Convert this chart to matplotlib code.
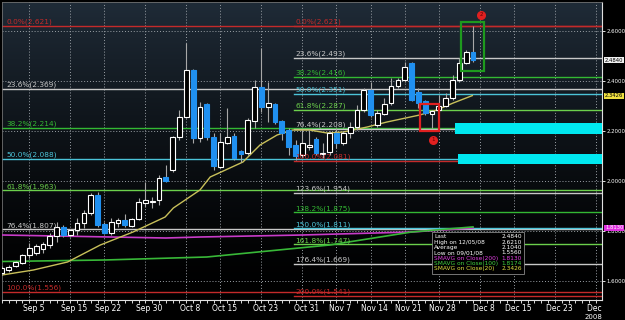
import numpy as np
import matplotlib
matplotlib.use("Agg")
import matplotlib.pyplot as plt
from matplotlib.patches import Rectangle
from matplotlib.colors import LinearSegmentedColormap
from matplotlib.transforms import Bbox, TransformedBbox, ScaledTranslation, blended_transform_factory

# Daily candles, one per weekday from Sep 1 2008 to Dec 5 2008 (x = weekday index)
opens = [1.633, 1.645, 1.661, 1.673, 1.705, 1.713, 1.729, 1.745, 1.781, 1.817,
         1.785, 1.805, 1.833, 1.873, 1.945, 1.829, 1.793, 1.833, 1.845, 1.821,
         1.849, 1.913, 1.917, 1.925, 2.017, 2.045, 2.177, 2.257, 2.445, 2.173,
         2.309, 2.177, 2.057, 2.153, 2.181, 2.121, 2.113, 2.241, 2.377, 2.297,
         2.309, 2.241, 2.205, 2.145, 2.105, 2.137, 2.169, 2.109, 2.117, 2.193,
         2.153, 2.193, 2.217, 2.285, 2.365, 2.225, 2.269, 2.313, 2.381, 2.405,
         2.473, 2.357, 2.321, 2.269, 2.285, 2.301, 2.333, 2.405, 2.473, 2.517]
highs = [1.661, 1.665, 1.681, 1.709, 1.753, 1.749, 1.757, 1.793, 1.837, 1.825,
         1.809, 1.853, 1.885, 1.953, 1.957, 1.837, 1.853, 1.853, 1.869, 1.853,
         1.933, 1.997, 1.937, 2.025, 2.065, 2.181, 2.285, 2.553, 2.449, 2.317,
         2.313, 2.193, 2.193, 2.293, 2.193, 2.125, 2.253, 2.405, 2.533, 2.397,
         2.313, 2.245, 2.213, 2.165, 2.205, 2.205, 2.177, 2.153, 2.201, 2.213,
         2.201, 2.237, 2.305, 2.373, 2.397, 2.285, 2.333, 2.413, 2.413, 2.477,
         2.477, 2.373, 2.325, 2.285, 2.345, 2.353, 2.425, 2.493, 2.525, 2.621]
lows = [1.625, 1.637, 1.657, 1.669, 1.693, 1.705, 1.713, 1.733, 1.757, 1.777,
        1.777, 1.785, 1.813, 1.865, 1.817, 1.789, 1.785, 1.817, 1.817, 1.817,
        1.845, 1.897, 1.893, 1.905, 1.997, 2.037, 2.165, 2.253, 2.153, 2.157,
        2.165, 2.045, 2.053, 2.149, 2.085, 2.077, 2.105, 2.213, 2.277, 2.237,
        2.229, 2.165, 2.105, 2.085, 2.097, 2.125, 2.105, 2.093, 2.105, 2.133,
        2.145, 2.173, 2.205, 2.277, 2.257, 2.217, 2.265, 2.305, 2.373, 2.397,
        2.321, 2.293, 2.265, 2.213, 2.277, 2.297, 2.325, 2.397, 2.469, 2.477]
closes = [1.653, 1.657, 1.677, 1.705, 1.733, 1.741, 1.749, 1.781, 1.817, 1.785,
          1.805, 1.833, 1.873, 1.945, 1.825, 1.793, 1.837, 1.845, 1.825, 1.849,
          1.917, 1.925, 1.921, 2.013, 2.001, 2.177, 2.257, 2.445, 2.173, 2.297,
          2.177, 2.061, 2.157, 2.177, 2.093, 2.109, 2.245, 2.377, 2.297, 2.313,
          2.237, 2.193, 2.137, 2.101, 2.153, 2.145, 2.113, 2.113, 2.193, 2.153,
          2.193, 2.217, 2.285, 2.365, 2.265, 2.273, 2.309, 2.381, 2.405, 2.457,
          2.325, 2.313, 2.273, 2.281, 2.301, 2.333, 2.405, 2.473, 2.517, 2.484]

# Moving averages
ma20_x = [0, 4.6, 9.6, 14.4, 19.2, 23.9, 25.1, 29.0, 30.5, 35.3, 37.8, 40.3,
          42.6, 45.1, 47.6, 50.0, 53.5, 56.4, 61.2, 63.7, 66.1, 68.9]
ma20_y = [1.625, 1.645, 1.677, 1.745, 1.797, 1.857, 1.893, 1.965, 2.017, 2.077, 2.145, 2.185,
          2.205, 2.205, 2.193, 2.197, 2.217, 2.237, 2.265, 2.285, 2.313, 2.3426]
ma100_x = [0, 15, 30, 48, 60, 69]
ma100_y = [1.679, 1.685, 1.697, 1.745, 1.797, 1.8174]
ma200_x = [0, 24, 29, 44, 60, 69]
ma200_y = [1.785, 1.773, 1.777, 1.785, 1.797, 1.813]

# Fibonacci levels
fib_left_pct = ["0.0", "23.6", "38.2", "50.0", "61.8", "76.4", "100.0"]
fib_left_val = [2.621, 2.369, 2.214, 2.088, 1.963, 1.807, 1.556]
fib_right_pct = ["0.0", "23.6", "38.2", "50.0", "61.8", "76.4", "100.0",
                 "123.6", "138.2", "150.0", "161.8", "176.4", "200.0"]
fib_right_val = [2.621, 2.493, 2.416, 2.351, 2.287, 2.208, 2.081,
                 1.954, 1.875, 1.811, 1.747, 1.669, 1.541]

tick_pos = [4, 10, 15, 21, 27, 32, 38, 44, 49, 54, 59, 64, 70, 75, 81, 87]
tick_labels = ["Sep 5", "Sep 15", "Sep 22", "Sep 30", "Oct 8", "Oct 15", "Oct 23", "Oct 31",
               "Nov 7", "Nov 14", "Nov 21", "Nov 28", "Dec 8", "Dec 15", "Dec 23", "Dec 31"]
price_ticks = [1.6, 1.8, 2.0, 2.2, 2.4, 2.6]

legend_names = ["Last", "High on 12/05/08", "Average", "Low on 09/01/08",
                "SMAVG on Close(200)", "SMAVG on Close(100)", "SMAVG on Close(20)"]
legend_vals = ["2.4840", "2.6210", "2.1040", "1.5560", "1.8130", "1.8174", "2.3426"]

RED = "#c42a2a"
GRAY = "#c8c8c8"
GREEN = "#33b833"
CYAN = "#4cc4d8"
LGREEN = "#6cd04c"
FIB_COLORS = {"0.0": RED, "23.6": GRAY, "38.2": GREEN, "50.0": CYAN, "61.8": LGREEN,
              "76.4": GRAY, "100.0": RED, "123.6": GRAY, "138.2": GREEN, "150.0": CYAN,
              "161.8": LGREEN, "176.4": GRAY, "200.0": RED}
YELLOW = "#c8c05a"
MAGENTA = "#c83cc8"
MAGREEN = "#38b838"
BLUE = "#2090f0"

X_MAX = 87.9


def draw_fibs(ax, pcts, vals, x0, xlab):
    ''' horizontal fib lines with their labels sitting just above the line '''
    for p, v in zip(pcts, vals):
        c = FIB_COLORS[p]
        ax.plot([x0, X_MAX], [v, v], color=c, lw=1.0, zorder=2)
        ax.text(xlab, v + 0.003, f"{p}%({v:.3f})", color=c, fontsize=5.3,
                va="bottom", ha="left", zorder=5)


def draw_candles(ax):
    for i in range(len(opens)):
        o, h, l, c = opens[i], highs[i], lows[i], closes[i]
        ax.vlines(i, l, h, color="#a8a8a8", lw=0.8, zorder=4)
        up = c >= o
        bottom = min(o, c)
        height = max(abs(c - o), 0.003)
        rect = Rectangle((i - 0.35, bottom), 0.7, height,
                         facecolor="#000000" if up else BLUE,
                         edgecolor="#ffffff" if up else BLUE, lw=0.8, zorder=4.5)
        ax.add_patch(rect)


def main():
    plt.rcParams['font.family'] = ['DejaVu Sans']
    fig = plt.figure(figsize=(6.25, 3.2), dpi=100, facecolor="black")
    ax = fig.add_axes([2 / 625, 20 / 320, 600 / 625, 298 / 320])
    ax.set_facecolor("black")
    ax.set_xlim(0.04, X_MAX)
    ax.set_ylim(1.525, 2.717)

    # background: slate at the top fading to black
    grad = np.linspace(0, 1, 256).reshape(-1, 1) ** 1.4
    cmap = LinearSegmentedColormap.from_list("bg", ["#000000", "#1f2b37"])
    ax.imshow(grad, extent=[0, 1, 0, 1], transform=ax.transAxes, origin="lower",
              cmap=cmap, aspect="auto", zorder=0)

    # grid
    ax.set_xticks(tick_pos)
    ax.set_xticklabels(tick_labels)
    ax.set_xticks(np.arange(0, 88), minor=True)
    ax.set_yticks(price_ticks)
    ax.set_yticklabels([f"{p:.4f}" for p in price_ticks])
    ax.grid(True, which="major", color="#9aa0a6", lw=0.7, linestyle=(0, (1, 2)), zorder=1)
    ax.set_axisbelow(True)

    ax.yaxis.tick_right()
    ax.tick_params(axis="y", colors="white", labelsize=3.9, length=2, width=0.6, pad=1)
    ax.tick_params(axis="x", which="major", colors="white", labelsize=5.5, length=2, width=0.6, pad=1)
    ax.tick_params(axis="x", which="minor", colors="white", length=2, width=0.6)
    for sp in ["top", "left"]:
        ax.spines[sp].set_color("#707070")
        ax.spines[sp].set_linewidth(0.6)
    for sp in ["right", "bottom"]:
        ax.spines[sp].set_color("#e0e0e0")
        ax.spines[sp].set_linewidth(0.8)

    # date labels sit slightly right of their grid line, and get clipped at the price axis
    shift = ScaledTranslation(4 / 100, 0, fig.dpi_scale_trans)
    clip = TransformedBbox(Bbox.from_extents(0, -0.2, 1, 1), ax.transAxes)
    for lab in ax.get_xticklabels():
        lab.set_transform(lab.get_transform() + shift)
        lab.set_clip_on(True)
        lab.set_clip_box(clip)

    # fib retracement / extension levels
    draw_fibs(ax, fib_left_pct, fib_left_val, 0.04, 0.63)
    draw_fibs(ax, fib_right_pct, fib_right_val, 42.8, 43.0)

    # moving averages
    ax.plot(ma200_x, ma200_y, color=MAGENTA, lw=1.2, zorder=3)
    ax.plot(ma100_x, ma100_y, color=MAGREEN, lw=1.2, zorder=3)
    ax.plot(ma20_x, ma20_y, color=YELLOW, lw=1.0, zorder=3)

    draw_candles(ax)

    # cyan zones
    ax.add_patch(Rectangle((66.4, 2.189), X_MAX - 66.4, 0.044, facecolor="#00e8f0",
                           edgecolor="none", zorder=6))
    ax.add_patch(Rectangle((66.8, 2.069), X_MAX - 66.8, 0.040, facecolor="#00e8f0",
                           edgecolor="none", zorder=6))

    # marked boxes and numbered dots
    ax.add_patch(Rectangle((61.3, 2.201), 2.7, 0.108, facecolor="none",
                           edgecolor="#e02020", lw=1.6, zorder=7))
    ax.add_patch(Rectangle((67.3, 2.441), 3.3, 0.196, facecolor="none",
                           edgecolor="#1e9a1e", lw=1.6, zorder=7))
    ax.scatter([63.1, 70.2], [2.165, 2.665], s=30, color="#e02020", zorder=8)
    ax.text(63.1, 2.165, "1", color="#600000", fontsize=4, ha="center", va="center", zorder=9)
    ax.text(70.2, 2.665, "2", color="#600000", fontsize=4, ha="center", va="center", zorder=9)

    # value tags on the price axis
    tr = blended_transform_factory(ax.transAxes, ax.transData)
    tags = [(closes[-1], "#f0f0f0", "black"), (ma20_y[-1], "#f0e040", "black"),
            (ma200_y[-1], "#e030e0", "white")]
    for val, fc, tc in tags:
        ax.text(1.005, val, f"{val:.4f}", transform=tr, color=tc, fontsize=3.8,
                ha="left", va="center", clip_on=False, zorder=10,
                bbox=dict(boxstyle="square,pad=0.1", fc=fc, ec="none"))

    # info box
    ax.add_patch(Rectangle((0.717, 0.087), 0.153, 0.141, transform=ax.transAxes,
                           facecolor="black", edgecolor="#888888", lw=0.6, zorder=9))
    colors = ["white", "white", "white", "white", "#e040e0", "#40d040", "#e0e040"]
    for k in range(len(legend_names)):
        yy = 0.212 - k * 0.0178
        ax.text(0.72, yy, legend_names[k], transform=ax.transAxes, color=colors[k],
                fontsize=4.2, va="center", ha="left", zorder=10)
        ax.text(0.867, yy, legend_vals[k], transform=ax.transAxes, color=colors[k],
                fontsize=4.2, va="center", ha="right", zorder=10)

    fig.text(593 / 625, 3 / 320, "2008", color="white", fontsize=5, ha="center", va="center")

    fig.savefig("out.png", dpi=100, facecolor="black")


if __name__ == '__main__':
    main()
